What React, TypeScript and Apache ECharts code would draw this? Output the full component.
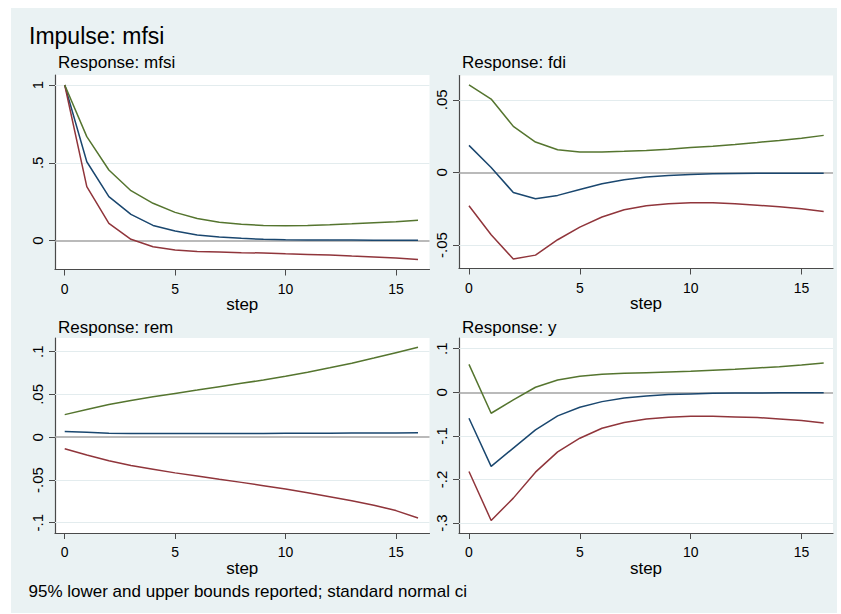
import React, { useEffect, useRef } from "react";
import * as echarts from "echarts";

// ---------- data ----------
const steps = [0, 1, 2, 3, 4, 5, 6, 7, 8, 9, 10, 11, 12, 13, 14, 15, 16];
const xTicks = [0, 5, 10, 15];

// Response: mfsi
const mfsiIrf = [1, 0.507, 0.283, 0.169, 0.098, 0.062, 0.036, 0.024, 0.015, 0.009, 0.006, 0.005, 0.004, 0.004, 0.003, 0.003, 0.003];
const mfsiLo = [1, 0.347, 0.111, 0.009, -0.039, -0.06, -0.069, -0.073, -0.077, -0.079, -0.084, -0.088, -0.092, -0.099, -0.105, -0.111, -0.12];
const mfsiHi = [1, 0.668, 0.454, 0.321, 0.24, 0.182, 0.143, 0.118, 0.105, 0.098, 0.096, 0.098, 0.103, 0.109, 0.116, 0.122, 0.131];
const mfsiTicks = [0, 0.5, 1];

// Response: fdi
const fdiIrf = [0.0186, 0.0034, -0.0138, -0.0181, -0.0158, -0.0117, -0.0078, -0.005, -0.0032, -0.0021, -0.0014, -0.0009, -0.0007, -0.0005, -0.0005, -0.0005, -0.0005];
const fdiLo = [-0.0229, -0.0429, -0.0596, -0.0569, -0.0463, -0.0376, -0.0307, -0.0257, -0.0229, -0.0216, -0.0209, -0.0209, -0.0216, -0.0225, -0.0236, -0.025, -0.0268];
const fdiHi = [0.0603, 0.0505, 0.0317, 0.0209, 0.0156, 0.014, 0.014, 0.0145, 0.0151, 0.016, 0.0172, 0.0181, 0.0193, 0.0206, 0.022, 0.0236, 0.0255];
const fdiTicks = [-0.05, 0, 0.05];

// Response: rem
const remIrf = [0.0067, 0.0059, 0.0047, 0.0043, 0.0043, 0.0043, 0.0043, 0.0043, 0.0044, 0.0044, 0.0045, 0.0046, 0.0047, 0.0048, 0.0049, 0.005, 0.0051];
const remLo = [-0.0134, -0.0209, -0.0276, -0.0331, -0.0374, -0.0417, -0.0453, -0.0492, -0.0528, -0.0567, -0.0606, -0.065, -0.0697, -0.0744, -0.0795, -0.0858, -0.0945];
const remHi = [0.0264, 0.0323, 0.0382, 0.0429, 0.0472, 0.0512, 0.0551, 0.0591, 0.063, 0.0669, 0.0713, 0.076, 0.0811, 0.0866, 0.0925, 0.0988, 0.1051];
const remTicks = [-0.1, -0.05, 0, 0.05, 0.1];

// Response: y
const yIrf = [-0.0595, -0.17, -0.128, -0.0863, -0.0542, -0.0344, -0.0214, -0.013, -0.0084, -0.0053, -0.0038, -0.0023, -0.0015, -0.0014, -0.0013, -0.0012, -0.0012];
const yLo = [-0.1817, -0.2939, -0.2427, -0.1832, -0.1366, -0.1053, -0.0824, -0.0695, -0.0611, -0.0573, -0.055, -0.055, -0.0565, -0.058, -0.0611, -0.0649, -0.0702];
const yHi = [0.0641, -0.0481, -0.0176, 0.0115, 0.0282, 0.0366, 0.0412, 0.0435, 0.045, 0.0466, 0.0481, 0.0504, 0.0527, 0.0557, 0.0588, 0.0626, 0.0672];
const yTicks = [-0.3, -0.2, -0.1, 0, 0.1];

const mainTitle = "Impulse: mfsi";
const subTitles = ["Response: mfsi", "Response: fdi", "Response: rem", "Response: y"];
const xName = "step";
const note = "95% lower and upper bounds reported; standard normal ci";

// ---------- styling / layout ----------
const FONT = "'Liberation Sans', Arial, Helvetica, sans-serif";
const C_IRF = "#1a476f";
const C_LO = "#90353b";
const C_HI = "#55752f";
const AXIS = "#4a4a4a";

const panels = [
  { irf: mfsiIrf, lo: mfsiLo, hi: mfsiHi, ticks: mfsiTicks, yMin: -0.185, yMax: 1.064, xMin: -0.44, xMax: 16.52, left: 55, top: 75, width: 374.5, height: 194.5, tx: 58, ty: 62.5 },
  { irf: fdiIrf, lo: fdiLo, hi: fdiHi, ticks: fdiTicks, yMin: -0.0661, yMax: 0.0667, xMin: -0.45, xMax: 16.42, left: 459, top: 75.5, width: 374, height: 193, tx: 462, ty: 62.5 },
  { irf: remIrf, lo: remLo, hi: remHi, ticks: remTicks, yMin: -0.112, yMax: 0.116, xMin: -0.44, xMax: 16.52, left: 55, top: 338, width: 374.5, height: 195, tx: 58, ty: 327 },
  { irf: yIrf, lo: yLo, hi: yHi, ticks: yTicks, yMin: -0.3227, yMax: 0.1245, xMin: -0.45, xMax: 16.42, left: 459, top: 338, width: 374, height: 195, tx: 462, ty: 327 },
];

const fmt = (v: number) => {
  if (Math.abs(v) < 1e-12) return "0";
  const s = parseFloat(v.toFixed(4)).toString();
  return s.replace(/^(-?)0\./, "$1.");
};

const pairs = (ys: number[]) => steps.map((s, i) => [s, ys[i]]);

export default function App() {
  const ref = useRef<HTMLDivElement>(null);

  useEffect(() => {
    if (!ref.current) return;
    const chart = echarts.init(ref.current, null, { renderer: "svg" });

    const grid: any[] = [];
    const xAxis: any[] = [];
    const yAxis: any[] = [];
    const series: any[] = [];

    panels.forEach((p, i) => {
      grid.push({
        left: p.left,
        top: p.top,
        width: p.width,
        height: p.height,
        show: true,
        backgroundColor: "#ffffff",
        borderWidth: 0,
      });
      xAxis.push({
        gridIndex: i,
        type: "value",
        min: p.xMin,
        max: p.xMax,
        name: xName,
        nameLocation: "middle",
        nameGap: 26,
        nameTextStyle: { fontFamily: FONT, fontSize: 17, color: "#000" },
        axisLine: { show: true, onZero: false, lineStyle: { color: AXIS, width: 1.2 } },
        axisTick: { show: true, length: 6, customValues: xTicks, lineStyle: { color: AXIS, width: 1 } },
        axisLabel: { customValues: xTicks, margin: 12, fontFamily: FONT, fontSize: 14, color: "#000", formatter: fmt },
        splitLine: { show: false },
      });
      yAxis.push({
        gridIndex: i,
        type: "value",
        min: p.yMin,
        max: p.yMax,
        axisLine: { show: true, onZero: false, lineStyle: { color: AXIS, width: 1.2 } },
        axisTick: { show: true, length: 6, customValues: p.ticks, lineStyle: { color: AXIS, width: 1 } },
        axisLabel: { customValues: p.ticks, rotate: 90, margin: 10, fontFamily: FONT, fontSize: 15, color: "#000", formatter: fmt },
        splitLine: { show: false },
      });
      const base = {
        type: "line",
        xAxisIndex: i,
        yAxisIndex: i,
        showSymbol: false,
        symbol: "none",
        silent: true,
      };
      series.push({
        ...base,
        name: "irf",
        data: pairs(p.irf),
        lineStyle: { color: C_IRF, width: 1.5 },
        markLine: {
          silent: true,
          z: 1,
          symbol: ["none", "none"],
          label: { show: false },
          data: [
            ...p.ticks
              .filter((v) => v !== 0)
              .map((v) => ({ yAxis: v, lineStyle: { color: "#e3ecee", width: 1, type: "solid" } })),
            { yAxis: 0, lineStyle: { color: "#a3a3a3", width: 1.5, type: "solid" } },
          ],
        },
      });
      series.push({ ...base, name: "lower", data: pairs(p.lo), lineStyle: { color: C_LO, width: 1.5 } });
      series.push({ ...base, name: "upper", data: pairs(p.hi), lineStyle: { color: C_HI, width: 1.5 } });
    });

    const graphic: any[] = [
      { type: "rect", z: -100, silent: true, shape: { x: 11, y: 8, width: 826, height: 605 }, style: { fill: "#eaf2f3" } },
      { type: "text", x: 29, y: 36.2, style: { text: mainTitle, font: `23px ${FONT}`, fill: "#000", verticalAlign: "middle", align: "left" } },
      { type: "text", x: 28.5, y: 591, style: { text: note, font: `17px ${FONT}`, fill: "#000", verticalAlign: "middle", align: "left" } },
      ...panels.map((p, i) => ({
        type: "text",
        x: p.tx,
        y: p.ty,
        style: { text: subTitles[i], font: `17px ${FONT}`, fill: "#000", verticalAlign: "middle", align: "left" },
      })),
    ];

    chart.setOption({
      animation: false,
      backgroundColor: "#ffffff",
      grid,
      xAxis,
      yAxis,
      series,
      graphic,
    });

    return () => chart.dispose();
  }, []);

  return <div ref={ref} style={{ position: "absolute", left: 0, top: 0, width: 841, height: 614 }} />;
}
